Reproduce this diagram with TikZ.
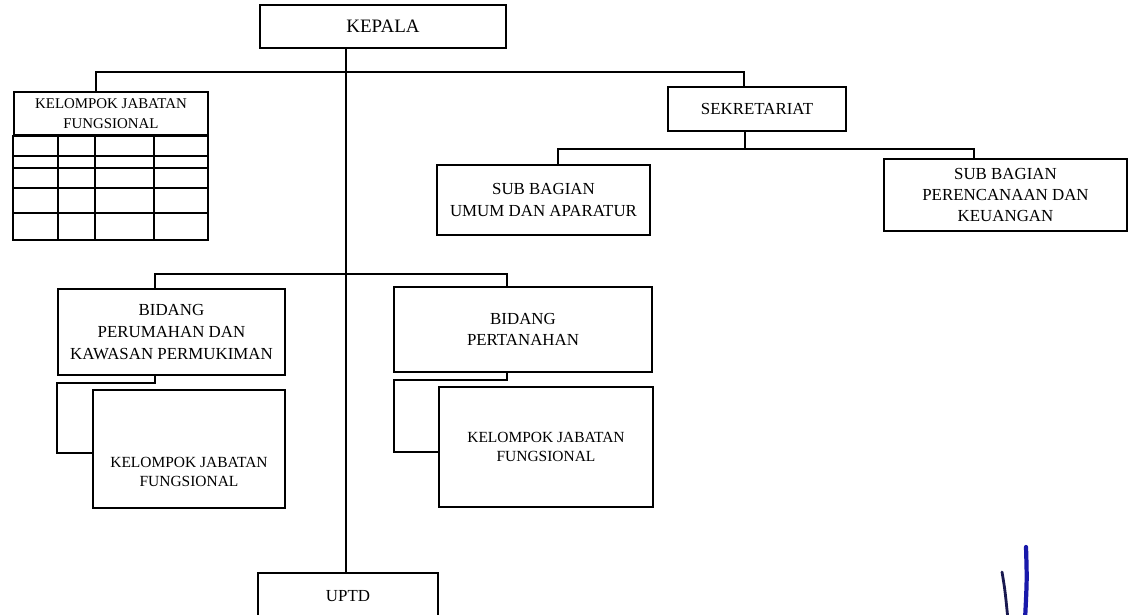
\documentclass[tikz,border=0pt]{standalone}
\usepackage{fontspec}
\setmainfont{Liberation Serif}
\begin{document}
\begin{tikzpicture}[x=0.025cm, y=-0.025cm,
    kotak/.style 2 args={draw, line width=1.1pt, align=center, inner sep=0pt,
      minimum width=#1*0.025cm, minimum height=#2*0.025cm,
      font=\fontsize{12}{15.5}\selectfont},
    teks/.style={align=center, inner sep=0pt, font=\fontsize{11}{14}\selectfont},
    garis/.style={line width=1.1pt}]
    \clip (0,0) rectangle (1130,615);

    % Kepala
    \node[kotak={246}{43}, font=\fontsize{13.5}{16}\selectfont] (kepala) at (383,26.5) {KEPALA};

    % Kelompok jabatan fungsional (tabel)
    \node[kotak={194}{43}, font=\fontsize{10.6}{14}\selectfont] (kjf) at (111,113.5) {KELOMPOK JABATAN\\FUNGSIONAL};
    \draw[garis] (kjf.south west) rectangle (208,240);
    \foreach \y in {156,168,188,213} \draw[garis] (14,\y) -- (208,\y);
    \foreach \x in {58,95,154} \draw[garis] (\x,135) -- (\x,240);

    % Sekretariat
    \node[kotak={178}{44}] (sekretariat) at (757,109) {SEKRETARIAT};
    \node[kotak={213}{70}] (umum) at (543.5,200) {SUB BAGIAN\\UMUM DAN APARATUR};
    \node[kotak={243}{72}, font=\fontsize{12}{14.8}\selectfont] (perencanaan) at (1005.5,195) {SUB BAGIAN\\PERENCANAAN DAN\\KEUANGAN};

    % Bidang
    \node[kotak={227}{86}] (perumahan) at (171.5,332) {BIDANG\\PERUMAHAN DAN\\KAWASAN PERMUKIMAN};
    \node[kotak={192}{118}] (kjfa) at (189,449) {};
    \node[teks] (kjfa-teks) at (189,472) {KELOMPOK JABATAN\\FUNGSIONAL};

    \node[kotak={258}{85}, font=\fontsize{12}{14.5}\selectfont] (pertanahan) at (523,329.5) {BIDANG\\PERTANAHAN};
    \node[kotak={214}{120}, teks, draw, line width=1.1pt] (kjfb) at (546,447) {KELOMPOK JABATAN\\FUNGSIONAL};

    % UPTD
    \node[kotak={180}{47}] (uptd) at (348,596.5) {UPTD};

    % garis komando
    \coordinate (pusat) at (346,72);
    \coordinate (cabang-kiri) at (96,72);
    \coordinate (cabang-kanan) at (744,72);
    \draw[garis] (kepala.south -| pusat) -- (uptd.north -| pusat);
    \draw[garis] (kjf.north -| cabang-kiri) -- (cabang-kiri) -- (cabang-kanan) -- (sekretariat.north -| cabang-kanan);

    \coordinate (sek-bawah) at (745,149);
    \coordinate (c-umum) at (558,149);
    \coordinate (c-renc) at (974,149);
    \draw[garis] (sekretariat.south -| sek-bawah) -- (sek-bawah);
    \draw[garis] (umum.north -| c-umum) -- (c-umum) -- (c-renc) -- (perencanaan.north -| c-renc);

    \coordinate (c-rumah) at (155,274);
    \coordinate (c-tanah) at (507,274);
    \draw[garis] (perumahan.north -| c-rumah) -- (c-rumah) -- (c-tanah) -- (pertanahan.north -| c-tanah);

    % ke kelompok jabatan fungsional bidang
    \coordinate (lipat-a1) at (57,383);
    \coordinate (lipat-a2) at (57,453);
    \draw[garis] (perumahan.south -| c-rumah) |- (lipat-a1) -- (lipat-a2) -- (kjfa.west |- lipat-a2);
    \coordinate (lipat-b1) at (394,380);
    \coordinate (lipat-b2) at (394,452);
    \draw[garis] (pertanahan.south -| c-tanah) |- (lipat-b1) -- (lipat-b2) -- (kjfb.west |- lipat-b2);

    % paraf
    \draw[line width=2pt, line cap=round, color={rgb,255:red,25;green,25;blue,80}] (1002,572) .. controls (1005,590) .. (1008,620);
    \draw[line width=3pt, line cap=round, color={rgb,255:red,25;green,25;blue,170}] (1026,547) .. controls (1027,580) .. (1025,620);
\end{tikzpicture}
\end{document}
